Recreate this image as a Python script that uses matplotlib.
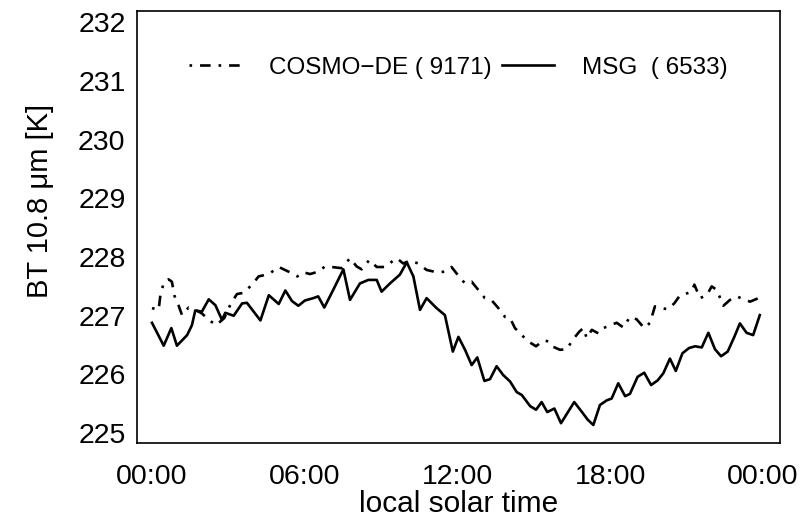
import matplotlib
matplotlib.use("Agg")
import matplotlib.pyplot as plt

plt.rcParams['font.family'] = ['Liberation Sans', 'DejaVu Sans']

# MSG observations (local solar time in hours, BT in K)
msg_hours = [0.00, 0.46, 0.76, 0.98, 1.38, 1.57, 1.70, 1.96, 2.23, 2.49, 2.75, 2.88,
             3.21, 3.54, 3.73, 4.26, 4.59, 4.98, 5.24, 5.50, 5.75, 6.01, 6.34, 6.53,
             6.77, 7.12, 7.52, 7.78, 8.17, 8.50, 8.83, 9.02, 9.35, 9.74, 10.01, 10.27,
             10.53, 10.79, 11.18, 11.51, 11.82, 12.04, 12.30, 12.56, 12.78, 13.06, 13.28,
             13.54, 13.80, 14.07, 14.33, 14.53, 14.86, 15.09, 15.31, 15.53, 15.81, 16.07,
             16.33, 16.59, 16.86, 17.12, 17.34, 17.60, 17.87, 18.06, 18.32, 18.59, 18.78,
             19.08, 19.34, 19.61, 19.87, 20.09, 20.35, 20.58, 20.84, 21.10, 21.34, 21.60,
             21.86, 22.12, 22.36, 22.62, 22.88, 23.10, 23.36, 23.62, 23.88]
msg_bt = [226.88, 226.49, 226.79, 226.49, 226.67, 226.84, 227.09, 227.07, 227.28, 227.18,
          226.93, 227.05, 227.00, 227.21, 227.22, 226.92, 227.35, 227.20, 227.43, 227.25,
          227.17, 227.26, 227.30, 227.33, 227.14, 227.44, 227.79, 227.27, 227.55, 227.61,
          227.61, 227.41, 227.55, 227.70, 227.91, 227.67, 227.10, 227.30, 227.13, 227.01,
          226.39, 226.64, 226.42, 226.16, 226.29, 225.89, 225.92, 226.14, 225.99, 225.88,
          225.70, 225.65, 225.46, 225.40, 225.53, 225.36, 225.42, 225.17, 225.35, 225.53,
          225.38, 225.23, 225.14, 225.48, 225.56, 225.59, 225.85, 225.63, 225.67, 225.96,
          226.03, 225.82, 225.90, 226.02, 226.27, 226.06, 226.36, 226.45, 226.48, 226.46,
          226.71, 226.43, 226.31, 226.39, 226.64, 226.87, 226.71, 226.67, 227.01]

# COSMO-DE synthetic
cosmo_hours = [0.00, 0.26, 0.33, 0.46, 0.65, 0.78, 0.89, 1.04, 1.18, 1.44, 1.70, 1.96,
               2.23, 2.52, 2.84, 3.10, 3.34, 3.60, 3.93, 4.19, 4.59, 4.98, 5.37, 5.71,
               5.95, 6.21, 6.53, 6.80, 7.06, 7.45, 7.78, 8.04, 8.24, 8.54, 8.83, 9.16,
               9.42, 9.62, 9.87, 10.14, 10.46, 10.79, 11.19, 11.51, 11.77, 12.04, 12.30,
               12.56, 12.82, 13.08, 13.35, 13.61, 13.87, 14.07, 14.26, 14.53, 14.79, 15.09,
               15.38, 15.62, 15.77, 16.03, 16.30, 16.53, 16.79, 16.95, 17.08, 17.28, 17.54,
               17.74, 18.00, 18.26, 18.52, 18.78, 19.04, 19.34, 19.57, 19.76, 20.03, 20.26,
               20.52, 20.75, 21.01, 21.20, 21.31, 21.53, 21.80, 21.99, 22.19, 22.45, 22.71,
               22.98, 23.24, 23.50, 23.83]
cosmo_bt = [227.13, 227.10, 227.35, 227.56, 227.62, 227.58, 227.33, 227.18, 227.01, 227.14,
            227.10, 227.04, 226.93, 226.84, 226.96, 227.21, 227.37, 227.39, 227.53, 227.67,
            227.71, 227.83, 227.75, 227.67, 227.74, 227.71, 227.75, 227.84, 227.83, 227.81,
            227.98, 227.84, 227.79, 227.95, 227.83, 227.83, 227.92, 227.98, 227.89, 227.94,
            227.89, 227.78, 227.74, 227.75, 227.83, 227.68, 227.55, 227.58, 227.44, 227.30,
            227.26, 227.13, 226.98, 226.96, 226.79, 226.67, 226.56, 226.48, 226.58, 226.56,
            226.47, 226.42, 226.43, 226.59, 226.73, 226.79, 226.62, 226.76, 226.70, 226.79,
            226.84, 226.88, 226.80, 226.98, 226.94, 226.79, 226.88, 227.16, 227.13, 227.11,
            227.21, 227.35, 227.38, 227.41, 227.53, 227.30, 227.35, 227.50, 227.44, 227.17,
            227.27, 227.33, 227.28, 227.24, 227.30]

xticks = [0, 6, 12, 18, 24]
xticklabels = ["00:00", "06:00", "12:00", "18:00", "00:00"]
yticks = [225, 226, 227, 228, 229, 230, 231, 232]

fig = plt.figure(figsize=(8.09, 5.22), dpi=100)
ax = fig.add_axes([0.169, 0.151, 0.795, 0.828])

ax.plot(cosmo_hours, cosmo_bt, color="black", lw=1.9, linestyle=(0, (1, 3, 4, 3)),
        label="COSMO\u2212DE ( 9171)")
ax.plot(msg_hours, msg_bt, color="black", lw=1.9, label="MSG  ( 6533)")

ax.set_xlim(-0.6, 24.67)
ax.set_ylim(224.83, 232.19)
ax.set_xticks(xticks)
ax.set_xticklabels(xticklabels)
ax.set_yticks(yticks)
ax.tick_params(axis="both", length=0, labelsize=20.5)
ax.tick_params(axis="y", pad=8)
ax.tick_params(axis="x", pad=15)
for s in ax.spines.values():
    s.set_linewidth(1.2)

ax.set_xlabel("local solar time", fontsize=21.5, labelpad=0)
ax.set_ylabel("BT 10.8 \u03bcm [K]", fontsize=21)
ax.yaxis.set_label_coords(-0.128, 0.56)

ax.legend(loc="upper center", bbox_to_anchor=(0.5, 0.945), ncol=2, frameon=False,
          fontsize=17.5, handlelength=2.15, columnspacing=0.4, handletextpad=1.15)

fig.savefig("out.png", dpi=100)
